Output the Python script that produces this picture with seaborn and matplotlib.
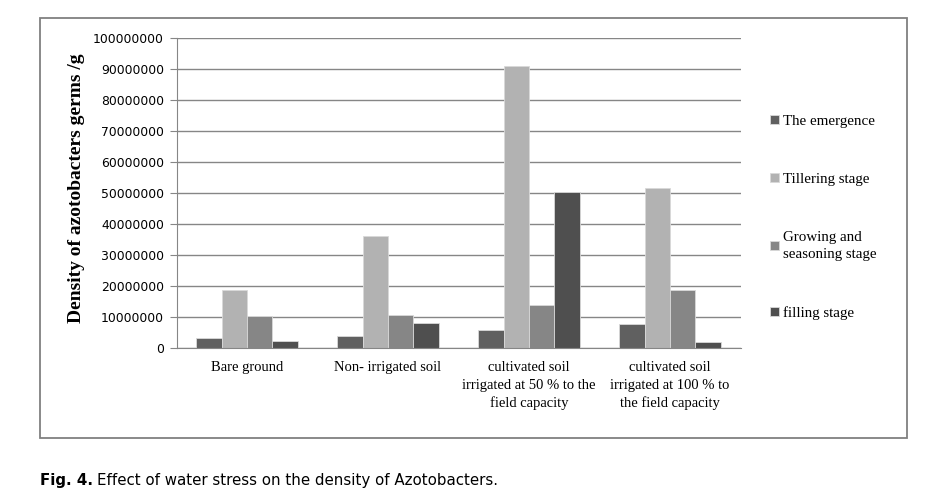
import pandas as pd
import seaborn as sns
import matplotlib.pyplot as plt
from matplotlib.patches import Rectangle

# Data (germs / g)
sites = ['Bare ground', 'Non- irrigated soil',
         'cultivated soil\nirrigated at 50 % to the\nfield capacity',
         'cultivated soil\nirrigated at 100 % to\nthe field capacity']
stages = ['The emergence', 'Tillering stage',
          'Growing and\nseasoning stage', 'filling stage']
emergence = [3300000, 3900000, 5900000, 7700000]
tillering = [18600000, 36100000, 91000000, 51500000]
growing = [10400000, 10700000, 14000000, 18600000]
filling = [2300000, 8000000, 50300000, 2000000]
colors = ['#606060', '#b2b2b2', '#868686', '#4f4f4f']

df = pd.DataFrame({'site': sites * 4,
                   'stage': [s for s in stages for _ in sites],
                   'density': emergence + tillering + growing + filling})

sns.set_style('white')
plt.rcParams['text.color'] = 'black'
plt.rcParams['xtick.color'] = 'black'
plt.rcParams['ytick.color'] = 'black'
plt.rcParams['axes.labelcolor'] = 'black'

fig = plt.figure(figsize=(9.44, 4.96), dpi=100)
ax = fig.add_axes([0.187, 0.2984, 0.5975, 0.625])

sns.barplot(data=df, x='site', y='density', hue='stage', palette=colors,
            width=0.72, edgecolor='#d9d9d9', linewidth=0.6, ax=ax)

ax.set_ylim(0, 100000000)
ax.set_yticks(range(0, 100000001, 10000000))
ax.set_yticklabels([str(v) for v in range(0, 100000001, 10000000)],
                   fontsize=8.9, family='DejaVu Sans')
ax.yaxis.grid(True, color='#868686', linewidth=1)
ax.set_axisbelow(True)
for side in ['top', 'right']:
  ax.spines[side].set_visible(False)
for side in ['left', 'bottom']:
  ax.spines[side].set_color('#868686')
ax.tick_params(axis='y', left=True, length=5, color='#868686',
               labelcolor='black', pad=4)
ax.tick_params(axis='x', bottom=False, pad=6, labelcolor='black')
for lab in ax.get_xticklabels():
  lab.set_family('Liberation Serif')
  lab.set_fontsize(10.5)
  lab.set_linespacing(1.45)

ax.set_xlabel('')
ax.set_ylabel('Density of azotobacters germs /g', family='Liberation Serif',
              fontweight='bold', fontsize=14)
ax.yaxis.set_label_coords(-0.163, 0.516)

handles, labels = ax.get_legend_handles_labels()
leg = ax.legend(handles, labels, loc='upper left',
                bbox_to_anchor=(762 / 944, 1 - 107 / 496),
                bbox_transform=fig.transFigure, frameon=False, borderpad=0,
                prop={'family': 'Liberation Serif', 'size': 10.8},
                handlelength=0.6, handleheight=0.6, handletextpad=0.3,
                labelspacing=3.0)
for t in leg.get_texts():
  t.set_linespacing(1.45)

# outer frame around the chart
fig.patches.append(Rectangle((39.5 / 944, 1 - 438 / 496), 867.5 / 944,
                             420 / 496, transform=fig.transFigure,
                             fill=False, edgecolor='#808080', linewidth=1.3))

# caption
t1 = fig.text(40 / 944, 1 - 481 / 496, 'Fig. 4.', fontweight='bold',
              fontsize=10.8, va='center', family='DejaVu Sans')
fig.canvas.draw()
bb = t1.get_window_extent().transformed(fig.transFigure.inverted())
fig.text(bb.x1 + 4 / 944, 1 - 481 / 496,
         'Effect of water stress on the density of Azotobacters.',
         fontsize=10.8, va='center', family='DejaVu Sans')

fig.savefig('out.png')
